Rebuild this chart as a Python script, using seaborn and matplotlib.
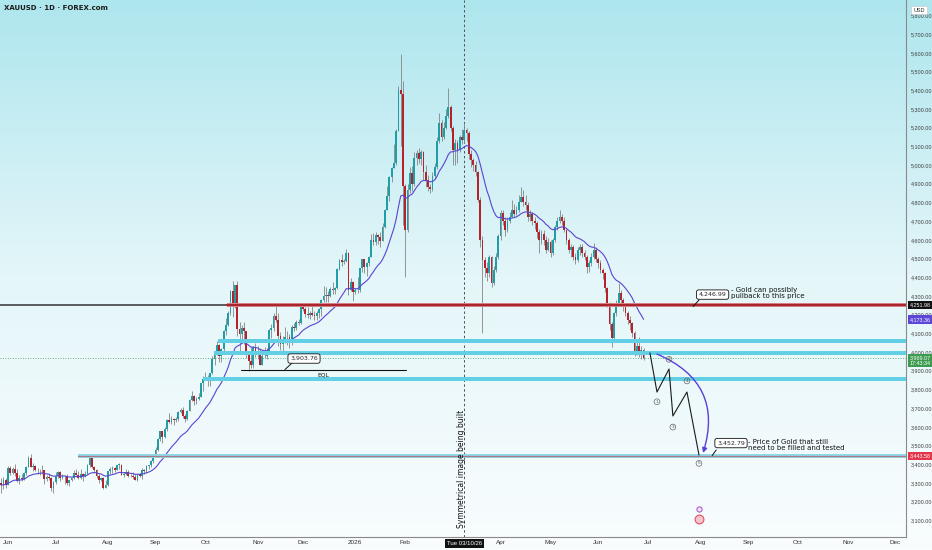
import numpy as np
import pandas as pd
import matplotlib
matplotlib.use("Agg")
import matplotlib.pyplot as plt
from matplotlib.colors import LinearSegmentedColormap
from matplotlib.patches import Rectangle
import seaborn as sns

# ---------------- data (daily XAUUSD, FOREX.com) ----------------
start_date = "2025-05-28"
first_open = 3300

closes = [
    3288, 3317, 3289,
    3381, 3353, 3374, 3352, 3310, 3325, 3322, 3355, 3386, 3433, 3385, 3389, 3370, 3368, 3368, 3368, 3323, 3332, 3328, 3274, 3303,
    3338, 3357, 3326, 3337, 3336, 3302, 3313, 3325, 3355, 3343, 3324, 3347, 3338, 3350, 3397, 3431, 3387, 3368, 3336, 3314, 3326, 3275, 3289,
    3363, 3373, 3381, 3369, 3397, 3398, 3342, 3348, 3356, 3336, 3336, 3332, 3316, 3348, 3339, 3371, 3366, 3393, 3397, 3416, 3448,
    3476, 3533, 3578, 3545, 3587, 3636, 3626, 3641, 3634, 3643, 3679, 3689, 3659, 3643, 3685, 3746, 3763, 3736, 3749, 3760, 3833, 3858,
    3866, 3857, 3886, 3961, 3985, 4040, 3976, 4017, 4110, 4143, 4209, 4327, 4251, 4356, 4125, 4095, 4126, 4112, 3982, 3951, 3930, 4025, 4002,
    4000, 3932, 3980, 3977, 4001, 4115, 4128, 4195, 4171, 4085, 4045, 4067, 4078, 4078, 4065, 4135, 4130, 4163, 4157, 4239,
    4231, 4205, 4200, 4208, 4197, 4190, 4208, 4229, 4279, 4300, 4305, 4302, 4338, 4332, 4340, 4444, 4490, 4480, 4485, 4532, 4331, 4375, 4320,
    4330, 4330, 4447, 4495, 4455, 4478, 4510, 4598, 4588, 4625, 4615, 4595, 4670, 4760, 4835, 4935, 4985, 5010, 5180, 5400, 5380, 4890,
    4652, 4866, 4955, 4900, 5040, 5062, 5030, 5070, 4960, 4920, 4884, 4870, 4940, 4991, 5130, 5223, 5151, 5200, 5260, 5312,
    5200, 5080, 5120, 5080, 5151, 5134, 5187, 5169, 5060, 5027, 5000, 4960, 4813, 4600, 4492, 4450, 4420, 4510, 4367, 4440, 4510, 4620,
    4742, 4700, 4652, 4700, 4724, 4759, 4740, 4760, 4800, 4831, 4800, 4786, 4724, 4740, 4700, 4688, 4640, 4599, 4630, 4600, 4545, 4590,
    4528, 4600, 4670, 4700, 4724, 4700, 4652, 4600, 4545, 4560, 4510, 4492, 4545, 4563, 4530, 4510, 4456, 4474, 4510, 4545, 4500,
    4474, 4440, 4421, 4340, 4260, 4150, 4073, 4207, 4260, 4314, 4280, 4242, 4207, 4170, 4153, 4100, 4000, 4030, 3993, 4011, 3969,
]
highs = [
    3325, 3330, 3325,
    3392, 3390, 3385, 3403, 3375, 3340, 3349, 3360, 3390, 3446, 3452, 3404, 3396, 3378, 3375, 3398, 3370, 3341, 3350, 3329, 3310,
    3358, 3365, 3366, 3345, 3343, 3345, 3318, 3331, 3369, 3375, 3366, 3377, 3352, 3361, 3402, 3433, 3438, 3393, 3374, 3345, 3334, 3334, 3315,
    3363, 3385, 3390, 3385, 3398, 3409, 3402, 3358, 3375, 3368, 3348, 3358, 3345, 3350, 3352, 3379, 3376, 3394, 3397, 3423, 3454,
    3490, 3540, 3578, 3563, 3600, 3640, 3674, 3656, 3649, 3655, 3685, 3703, 3707, 3668, 3688, 3749, 3791, 3768, 3761, 3782, 3835, 3871,
    3895, 3875, 3889, 3977, 3990, 4059, 4045, 4022, 4117, 4180, 4218, 4330, 4379, 4359, 4381, 4161, 4147, 4160, 4095, 4000, 4029, 4034, 4047,
    4030, 4020, 3991, 4029, 4020, 4125, 4149, 4211, 4245, 4211, 4105, 4084, 4133, 4110, 4097, 4142, 4156, 4169, 4176, 4244,
    4264, 4240, 4240, 4218, 4259, 4219, 4219, 4236, 4285, 4353, 4350, 4326, 4346, 4375, 4350, 4447, 4497, 4525, 4495, 4550, 4534, 4395, 4382,
    4340, 4402, 4450, 4500, 4500, 4480, 4515, 4630, 4635, 4642, 4633, 4640, 4690, 4766, 4888, 4940, 4990, 5110, 5190, 5420, 5595, 5450,
    4900, 4900, 4990, 4995, 5070, 5080, 5090, 5082, 5075, 5000, 4945, 4900, 4960, 5010, 5150, 5276, 5240, 5230, 5300, 5410,
    5320, 5210, 5140, 5134, 5160, 5190, 5223, 5200, 5180, 5080, 5040, 5020, 4970, 4830, 4620, 4510, 4480, 4520, 4515, 4460, 4530, 4630,
    4760, 4760, 4720, 4720, 4750, 4813, 4790, 4780, 4840, 4884, 4866, 4840, 4800, 4760, 4750, 4720, 4700, 4660, 4650, 4650, 4620, 4610,
    4600, 4610, 4680, 4720, 4760, 4740, 4720, 4660, 4610, 4580, 4570, 4530, 4560, 4580, 4575, 4545, 4520, 4490, 4530, 4581, 4560,
    4510, 4490, 4450, 4430, 4350, 4270, 4160, 4215, 4280, 4367, 4330, 4290, 4260, 4220, 4190, 4160, 4110, 4060, 4082, 4030, 4020,
]
lows = [
    3245, 3270, 3272,
    3290, 3343, 3345, 3338, 3307, 3293, 3308, 3316, 3340, 3385, 3383, 3366, 3362, 3347, 3340, 3346, 3295, 3312, 3317, 3256, 3247,
    3296, 3328, 3311, 3320, 3296, 3287, 3282, 3309, 3322, 3340, 3320, 3319, 3309, 3332, 3345, 3383, 3381, 3352, 3324, 3301, 3308, 3268, 3283,
    3281, 3345, 3352, 3358, 3367, 3376, 3341, 3332, 3344, 3330, 3330, 3323, 3314, 3311, 3330, 3321, 3350, 3351, 3375, 3385, 3405,
    3436, 3470, 3526, 3511, 3540, 3577, 3619, 3615, 3612, 3627, 3632, 3673, 3646, 3628, 3634, 3683, 3738, 3718, 3722, 3742, 3757, 3794,
    3850, 3820, 3820, 3884, 3931, 3983, 3944, 3947, 4008, 4090, 4140, 4196, 4185, 4236, 4083, 4004, 4069, 4044, 3970, 3900, 3914, 3916, 3973,
    3962, 3928, 3931, 3968, 3961, 3995, 4074, 4110, 4160, 4032, 4010, 3997, 4048, 4038, 4022, 4040, 4110, 4120, 4143, 4149,
    4218, 4186, 4180, 4175, 4195, 4171, 4170, 4182, 4192, 4265, 4270, 4270, 4294, 4310, 4308, 4338, 4438, 4460, 4470, 4480, 4305, 4325, 4275,
    4310, 4315, 4322, 4430, 4420, 4406, 4460, 4510, 4570, 4570, 4580, 4560, 4595, 4665, 4765, 4810, 4910, 4990, 5000, 5180, 5100, 4680,
    4403, 4640, 4850, 4860, 4890, 5000, 5010, 5000, 4920, 4880, 4860, 4850, 4860, 4925, 4980, 5120, 5130, 5140, 5190, 5250,
    5180, 5000, 5000, 5010, 5070, 5110, 5120, 5130, 5030, 4990, 4970, 4940, 4800, 4560, 4100, 4400, 4380, 4400, 4350, 4360, 4430, 4500,
    4600, 4680, 4620, 4640, 4690, 4720, 4720, 4730, 4750, 4800, 4780, 4760, 4700, 4700, 4680, 4660, 4610, 4528, 4580, 4570, 4530, 4540,
    4510, 4520, 4590, 4650, 4690, 4680, 4640, 4580, 4530, 4510, 4490, 4470, 4480, 4520, 4510, 4490, 4421, 4430, 4460, 4500, 4480,
    4450, 4420, 4390, 4320, 4240, 4120, 4029, 4060, 4190, 4250, 4250, 4220, 4190, 4150, 4120, 4080, 3980, 3985, 3975, 3960, 3955,
]
ma_span = 20

price_ticks = list(range(3100, 5801, 100))
resistance_level = 4251.98
ma_last_value = 4173.36
last_price = 3969.07
countdown_text = "17:43:34"
target_level = 3443.58
zone_levels = [4059, 3993, 3856]
eql_level = 3903.76
pullback_label = "4,246.99"
fill_label = "3,452.79"
wave_bar = [285.8, 288.9, 294.2, 295.9, 302.1, 307.4]
wave_price = [3995, 3786, 3909, 3658, 3786, 3449]
wave_names = ["", "1", "2", "3", "4", "5"]
crosshair_bar = 204
crosshair_label = "Tue 03/10/26"
title_text = "XAUUSD · 1D · FOREX.com"

# ---------------- style ----------------
UP = "#1f9ea6"
DN = "#b5222c"
WICK = "#858585"
MA_C = "#5a45d0"
AXF = "Liberation Sans"

sns.set_theme(style="white")
plt.rcParams['font.family'] = ['DejaVu Sans']

W, H = 932, 550
fig = plt.figure(figsize=(W / 100, H / 100), dpi=100)

bg = fig.add_axes([0, 0, 1, 1], zorder=0)
grad = np.linspace(0, 1, 256).reshape(-1, 1)
cmap = LinearSegmentedColormap.from_list("bg", ["#f9fdfe", "#e4f6f9", "#aee6ee"])
bg.imshow(grad, aspect='auto', cmap=cmap, origin='lower', extent=[0, 1, 0, 1])
bg.axis('off')

ax = fig.add_axes([0, 13 / H, 906 / W, 537 / H], zorder=1)
ax.patch.set_alpha(0)

XMIN, XMAX = -0.524, 398.6
YMIN, YMAX = 3010.7, 5882.4

# ---------------- candles ----------------
n = np.arange(len(closes))
c = np.array(closes, dtype=float)
o = np.concatenate([[first_open], c[:-1]])
h = np.maximum.reduce([np.array(highs, dtype=float), o, c])
l = np.minimum.reduce([np.array(lows, dtype=float), o, c])
up = c >= o
ax.vlines(n, l, h, color=WICK, lw=0.6, zorder=3)
ax.bar(n, np.maximum(np.abs(c - o), 3), bottom=np.minimum(o, c), width=0.78,
       color=np.where(up, UP, DN), linewidth=0, zorder=4)

df = pd.DataFrame({"bar": n, "ma": pd.Series(c).ewm(span=ma_span, adjust=False).mean()})
sns.lineplot(data=df, x="bar", y="ma", ax=ax, color=MA_C, lw=0.8, zorder=5)

# ---------------- levels / zones ----------------
red_start = 99.5
ax.plot([XMIN, red_start], [resistance_level] * 2, color="#333333", lw=1.1, zorder=6)
ax.add_patch(Rectangle((red_start, resistance_level - 12), XMAX - red_start, 24,
                       facecolor="#e0959a", edgecolor="none", zorder=6))
ax.plot([red_start, XMAX], [resistance_level] * 2, color="#a9262e", lw=1.7, zorder=6)

zone_starts = [95.5, 93.7, 88.9]
for lev, xs in zip(zone_levels, zone_starts):
    ax.add_patch(Rectangle((xs, lev - 10), XMAX - xs, 20, facecolor="#62cfe5",
                           edgecolor="none", zorder=6))

ax.add_patch(Rectangle((33.8, target_level - 9), XMAX - 33.8, 18, facecolor="#8fd9ea",
                       edgecolor="none", zorder=6))
ax.plot([33.8, XMAX], [target_level] * 2, color="#b07884", lw=0.9, zorder=6)

ax.axhline(last_price, color="#3f9a5a", lw=0.6, ls=(0, (1, 2)), zorder=2)
ax.axvline(crosshair_bar, color="#505050", lw=0.7, ls=(0, (2.5, 2.5)), zorder=2)
ax.text(202.8, 3377, "Symmetrical image being built", rotation=90, ha="center",
        va="center", fontsize=5.5, color="#111111", zorder=8)

# EQL
ax.plot([105.6, 178.3], [eql_level] * 2, color="#111111", lw=0.8, zorder=7)
ax.text(141.8, 3877, "EQL", fontsize=4.3, ha="center", va="center", color="#111", zorder=8)
ax.plot([128.1, 125.0], [3941, 3906], color="#111", lw=0.7, zorder=7)
ax.text(133.4, 3965, f"{eql_level:,.2f}", fontsize=4.5, ha="center", va="center", zorder=9,
        bbox=dict(boxstyle="round,pad=0.35", fc="white", ec="#111", lw=0.6))

# pullback annotation
ax.plot([307.4, 304.8], [4278, 4243], color="#111", lw=0.7, zorder=7)
ax.text(313.4, 4307, pullback_label, fontsize=4.5, ha="center", va="center", zorder=9,
        bbox=dict(boxstyle="round,pad=0.35", fc="white", ec="#111", lw=0.6))
ax.text(321.3, 4318, "- Gold can possibly\npullback to this price", fontsize=5,
        ha="left", va="center", linespacing=1.0, color="#111", zorder=9)

# fill annotation
ax.plot([315.0, 313.2], [3476, 3446], color="#111", lw=0.7, zorder=7)
ax.text(321.5, 3513, fill_label, fontsize=4.5, ha="center", va="center", zorder=9,
        bbox=dict(boxstyle="round,pad=0.35", fc="white", ec="#111", lw=0.6))
ax.text(329.1, 3504, "- Price of Gold that still\nneed to be filled and tested", fontsize=5,
        ha="left", va="center", linespacing=1.0, color="#111", zorder=9)

# wave projection
wdf = pd.DataFrame({"bar": wave_bar, "price": wave_price})
sns.lineplot(data=wdf, x="bar", y="price", ax=ax, sort=False, color="#1a1a1a", lw=0.8, zorder=7)
offsets = [0, -7, 7, -8, 8, -6]
for bx, py, name, off in zip(wave_bar, wave_price, wave_names, offsets):
    if not name:
        continue
    ax.annotate(name, (bx, py), xytext=(0, off), textcoords="offset points",
                fontsize=3.2, ha="center", va="center", color="#555", zorder=9,
                bbox=dict(boxstyle="circle,pad=0.2", fc="none", ec="#666", lw=0.5))

ax.annotate("", xy=(309.2, 3460), xytext=(288.9, 3989), zorder=8,
            arrowprops=dict(arrowstyle="-|>", color="#5b3fd6", lw=1.0,
                            connectionstyle="arc3,rad=-0.45", mutation_scale=7,
                            shrinkA=0, shrinkB=0))

# event icons
ax.scatter([307.4], [3107], s=40, c="#f4c6cc", edgecolors="#e0506a", linewidths=0.8, zorder=8)
ax.scatter([307.4], [3160], s=14, c="#f3e1f7", edgecolors="#a050c8", linewidths=0.7, zorder=8)

# ---------------- axes ----------------
ax.set_xlim(XMIN, XMAX)
ax.set_ylim(YMIN, YMAX)
ax.set_xlabel("")
ax.set_ylabel("")

all_dates = pd.bdate_range(start_date, "2026-12-31")
pos = pd.Series(np.arange(len(all_dates)), index=all_dates)
firsts = pos.groupby([all_dates.year, all_dates.month]).first()
tick_pos, tick_lab = [], []
for (yr, mo), p in firsts.items():
    if (yr, mo) in [(2025, 5), (2026, 3)]:
        continue
    tick_pos.append(p)
    tick_lab.append(str(yr) if mo == 1 else pd.Timestamp(yr, mo, 1).strftime("%b"))
ax.set_xticks(tick_pos)
ax.set_xticklabels(tick_lab, fontfamily=AXF)
ax.tick_params(axis="x", length=0, labelsize=4.6, colors="#333333", pad=2.5)

ax.yaxis.tick_right()
ax.set_yticks(price_ticks)
ax.set_yticklabels([f"{v:,.2f}" for v in price_ticks], fontfamily=AXF)
ax.tick_params(axis="y", length=0, labelsize=3.9, colors="#3c3c3c", pad=3.5)

for s in ["left", "top"]:
    ax.spines[s].set_visible(False)
for s in ["bottom", "right"]:
    ax.spines[s].set_visible(True)
    ax.spines[s].set_color("#8a8a8a")
    ax.spines[s].set_linewidth(0.8)

ytr = ax.get_yaxis_transform()
xtr = ax.get_xaxis_transform()
lx = 1 + 4 / 906


def axis_label(price, text, fc, va="center"):
    ax.text(lx, price, text, transform=ytr, fontsize=3.9, color="white", ha="left",
            va=va, zorder=20, clip_on=False, linespacing=1.15, fontfamily=AXF,
            bbox=dict(boxstyle="square,pad=0.3", fc=fc, ec="none"))


axis_label(resistance_level, f"{resistance_level:,.2f}", "#111111")
axis_label(ma_last_value, f"{ma_last_value:,.2f}", "#5b46d6")
axis_label(last_price + 14, f"{last_price:,.2f}\n{countdown_text}", "#3d9b50", va="top")
axis_label(target_level, f"{target_level:,.2f}", "#e2374b")

ax.text(crosshair_bar, -6.5 / 537, crosshair_label, transform=xtr, fontsize=4.3,
        color="white", ha="center", va="center", zorder=20, clip_on=False, fontfamily=AXF,
        bbox=dict(boxstyle="square,pad=0.3", fc="#111111", ec="none"))

fig.text(919 / W, 1 - 10 / H, "USD", fontsize=4.0, color="#333", ha="center", va="center",
         zorder=5, fontfamily=AXF,
         bbox=dict(boxstyle="square,pad=0.35", fc="white", ec="#cccccc", lw=0.5))
fig.text(4 / W, 1 - 8 / H, title_text, fontsize=5, color="#1b1b1b", ha="left",
         va="center", fontweight="bold", zorder=5)

fig.savefig("out.png", dpi=100)
